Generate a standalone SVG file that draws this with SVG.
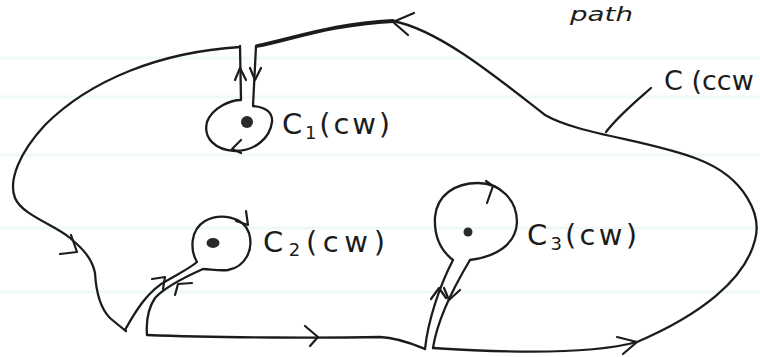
<svg xmlns="http://www.w3.org/2000/svg" width="760" height="357" viewBox="0 0 760 357">
<style>
.ln{fill:none;stroke:#1c1c1c;stroke-width:2.3;stroke-linecap:round;stroke-linejoin:round}
.thick{stroke-width:3.8}
.ar{fill:none;stroke:#1c1c1c;stroke-width:2.2;stroke-linecap:round;stroke-linejoin:round}
.dot{fill:#2a2a2a}
.lbl{font-family:"DejaVu Sans","Liberation Sans",sans-serif;font-size:29px;fill:#1c1c1c}
.sub{font-size:18px}
.sm{font-size:19px;font-style:italic}
.big{font-size:27px}
</style>
<rect width="760" height="357" fill="#ffffff"/>
<g id="paper" stroke="#f1f8f8" stroke-width="3">
<line x1="0" y1="58" x2="760" y2="58"/>
<line x1="0" y1="97" x2="760" y2="97"/>
<line x1="0" y1="155" x2="760" y2="155"/>
<line x1="0" y1="228" x2="760" y2="228"/>
<line x1="0" y1="292" x2="760" y2="292"/>
</g>
<g id="connectors">
<path id="outer-top" class="ln thick" d="M257 46 C290 40,330 24,393 21"/>
<path id="outer-right" class="ln" d="M393 21 C440 30,500 80,545 115 C580 135,650 140,700 160 C745 178,762 215,755 240 C745 280,700 315,637 342 C600 352,540 355,433 348"/>
<path id="outer-left" class="ln" d="M240 47 C160 52,90 80,45 125 C20 152,8 180,15 198 C22 215,55 225,70 238 C82 248,92 258,95 273 C96 290,100 308,110 318 C117 324,122 328,126 331"/>
<path id="bottom-mid" class="ln" d="M147 335 C220 338,330 338,380 337 C400 338,415 345,425 349"/>
<path id="leader" class="ln" d="M651 88 C635 102,618 116,606 132"/>
<polyline class="ar" points="414,13 393,22 408,35"/>
<polyline class="ar" points="60,254 77,252 71,235"/>
<polyline class="ar" points="617,337 637,342 623,354"/>
<polyline class="ar" points="305,326 318,337 310,346"/>
</g>
<g id="c1">
<path class="ln" d="M240 46 L241 100 C230 100,212 108,207 122 C203 138,215 150,235 151 C255 151,270 138,272 122 C273 112,265 107,253 106 L256 46"/>
<circle class="dot" cx="247" cy="122" r="6"/>
<polyline class="ar" points="235,80 240,68 246,80"/>
<polyline class="ar" points="250,68 255,80 261,68"/>
<polyline class="ar" points="241,140 232,149 241,153"/>
<text class="lbl" x="282" y="134" textLength="108" lengthAdjust="spacing">C<tspan class="sub" dy="5">1</tspan><tspan dy="-5">(cw)</tspan></text>
</g>
<g id="c2">
<path class="ln" d="M125 330 C135 312,148 290,168 280 C180 273,190 268,197 262 C190 250,190 230,205 221 C220 213,243 216,249 233 C254 250,245 267,228 270 C218 271,210 269,203 269 C185 277,165 287,155 298 C147 310,146 322,147 335"/>
<ellipse class="dot" cx="213" cy="243" rx="6.5" ry="5"/>
<polyline class="ar" points="152,279 165,277 163,289"/>
<polyline class="ar" points="192,283 178,284 175,295"/>
<polyline class="ar" points="246,211 248,225 236,221"/>
<text class="lbl" x="263" y="252" textLength="122" lengthAdjust="spacing">C<tspan class="sub" dy="4">2</tspan><tspan dy="-4">(cw)</tspan></text>
</g>
<g id="c3">
<path class="ln" d="M425 349 C428 320,440 285,453 260 C440 250,434 235,435 217 C437 195,455 183,478 183 C500 183,517 200,517 222 C516 245,495 257,470 260 C458 280,438 315,433 348"/>
<circle class="dot" cx="468" cy="232" r="4.5"/>
<polyline class="ar" points="431,299 439,288 446,298"/>
<polyline class="ar" points="444,288 449,300 460,290"/>
<polyline class="ar" points="486,181 493,186 487,203"/>
<text class="lbl" x="527" y="245" textLength="110" lengthAdjust="spacing">C<tspan class="sub" dy="5">3</tspan><tspan dy="-5">(cw)</tspan></text>
</g>
<g id="outer-label">
<text class="lbl big" x="664" y="90">C (ccw</text>
<text class="lbl sm" x="570" y="21" textLength="63" lengthAdjust="spacingAndGlyphs">path</text>
</g>
</svg>
